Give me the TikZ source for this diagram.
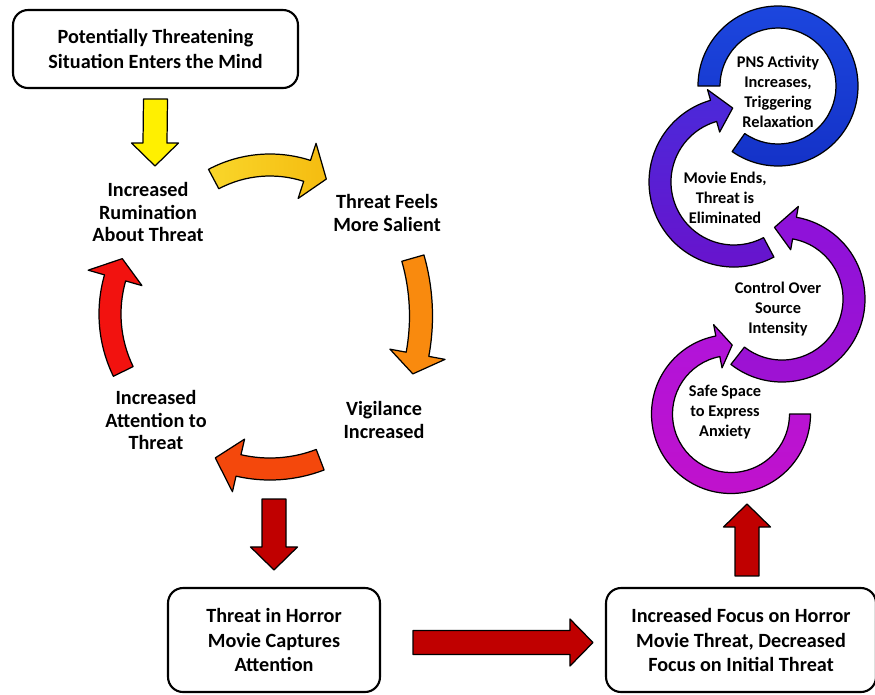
\documentclass[tikz,border=0pt]{standalone}
\usepackage{fontspec}
\setmainfont{Carlito}
\usepackage{xcolor}
\usetikzlibrary{calc}

\definecolor{yellowA}{HTML}{FFF000}
\definecolor{goldL}{HTML}{F9D62A}
\definecolor{goldR}{HTML}{F5BC10}
\definecolor{orangeA}{HTML}{F98A0E}
\definecolor{redorange}{HTML}{F4480C}
\definecolor{redA}{HTML}{F2120F}
\definecolor{darkred}{HTML}{C00000}
\definecolor{blueT}{HTML}{1C46DE}
\definecolor{blueB}{HTML}{1432C8}
\definecolor{violetT}{HTML}{4A2ADA}
\definecolor{violetB}{HTML}{6A12CC}
\definecolor{purpleT}{HTML}{8C12DA}
\definecolor{purpleB}{HTML}{A012D2}
\definecolor{magentaT}{HTML}{B014DA}
\definecolor{magentaB}{HTML}{C012CC}

\tikzset{
  blockline/.style={draw=black, line width=0.7pt, line join=round},
  flowbox/.style={draw=black, line width=1.2pt, rounded corners=0.3cm, align=center,
    font=\bfseries\fontsize{11.5}{14}\selectfont, inner sep=0pt},
  cyclabel/.style={align=center, font=\bfseries\fontsize{11.5}{13}\selectfont},
  ringlabel/.style={align=center, font=\bfseries\fontsize{9.3}{11.4}\selectfont}
}

\newcommand{\shw}{12}
\newcommand{\hhw}{23.5}
\newcommand{\hlen}{23}

% straight block arrow: style, from, to, direction, normal
\newcommand{\blockarrow}[5]{%
  \draw[blockline, #1]
    ($(#2)+\shw*(#5)$) -- ($(#3)-\hlen*(#4)+\shw*(#5)$)
    -- ($(#3)-\hlen*(#4)+\hhw*(#5)$) -- (#3)
    -- ($(#3)-\hlen*(#4)-\hhw*(#5)$) -- ($(#3)-\hlen*(#4)-\shw*(#5)$)
    -- ($(#2)-\shw*(#5)$) -- cycle;}

% curved block arrow: style, centre, radius, tail, head base, tip, shaft hw, head hw
\newcommand{\curvedarrow}[8]{%
  \draw[blockline, #1, shift={(#2)}]
    ({#4}:{#3+#7}) arc[start angle=#4, end angle=#5, radius={#3+#7}]
    -- ({#5}:{#3+#8}) -- ({#6}:{#3}) -- ({#5}:{#3-#8})
    -- ({#5}:{#3-#7}) arc[start angle=#5, end angle=#4, radius={#3-#7}] -- cycle;}

% ring without head: style, centre, radius, start, end, hw
\newcommand{\ringband}[6]{%
  \draw[blockline, #1, shift={(#2)}]
    ({#4}:{#3+#6}) arc[start angle=#4, end angle=#5, radius={#3+#6}]
    -- ({#5}:{#3-#6}) arc[start angle=#5, end angle=#4, radius={#3-#6}] -- cycle;}

\begin{document}
\begin{tikzpicture}[x=0.02cm, y=0.02cm]
  \useasboundingbox (0,0) rectangle (875,-694);

  % boxes
  \node[flowbox, minimum width=5.7cm, minimum height=1.56cm] (sit) at (155.5,-49)
    {Potentially Threatening\\Situation Enters the Mind};
  \node[flowbox, minimum width=4.24cm, minimum height=2.08cm] (movie) at (274,-640)
    {Threat in Horror\\Movie Captures\\Attention};
  \node[flowbox, minimum width=5.4cm, minimum height=2.08cm] (focus) at (741,-640)
    {Increased Focus on Horror\\Movie Threat, Decreased\\Focus on Initial Threat};

  % cycle
  \node[cyclabel] (rum) at (148,-212) {Increased\\Rumination\\About Threat};
  \node[cyclabel] (sal) at (387,-213) {Threat Feels\\More Salient};
  \node[cyclabel] (vig) at (384,-420) {Vigilance\\Increased};
  \node[cyclabel] (att) at (156,-420) {Increased\\Attention to\\Threat};

  \curvedarrow{left color=goldL, right color=goldR}{270,-285}{120}{118}{72}{62}{11}{29}
  \curvedarrow{fill=orangeA}{211,-316}{210}{16}{-10.5}{-16}{11.5}{28}
  \curvedarrow{fill=redorange}{270,-329}{140}{-69}{-103}{-113}{11}{27}
  \curvedarrow{fill=redA}{241,-314}{131}{206}{164}{155}{11}{28}

  % rings
  \node[ringlabel] (pns) at (778,-92) {PNS Activity\\Increases,\\Triggering\\Relaxation};
  \node[ringlabel] (ends) at (725,-198) {Movie Ends,\\Threat is\\Eliminated};
  \node[ringlabel] (ctrl) at (778,-309) {Control Over\\Source\\Intensity};
  \node[ringlabel] (safe) at (725,-412) {Safe Space\\to Express\\Anxiety};

  \curvedarrow{top color=magentaT, bottom color=magentaB}{731,-414}{69}{0}{-259}{-271}{10.5}{22}
  \curvedarrow{top color=purpleT, bottom color=purpleB}{782,-299}{72}{-128}{80}{96}{11}{22}
  \curvedarrow{top color=violetT, bottom color=violetB}{734,-182}{74}{-62}{-254}{-269}{11}{22}
  \ringband{top color=blueT, bottom color=blueB}{778,-86}{69}{180}{-125}{11}

  % straight arrows
  \coordinate (y0) at ($(sit.south)+(0,-10)$);
  \coordinate (y1) at (155,-166);
  \coordinate (r0) at (274,-499);
  \coordinate (r1) at ($(movie.north)+(0,17)$);
  \coordinate (h0) at ($(movie.east)+(32,-2.5)$);
  \coordinate (h1) at ($(focus.west)+(-12,-2.5)$);
  \coordinate (u0) at ($(focus.north)+(6,11)$);
  \coordinate (u1) at (747,-504);

  \blockarrow{fill=yellowA}{y0}{y1}{0,-1}{1,0}
  \blockarrow{fill=darkred}{r0}{r1}{0,-1}{1,0}
  \blockarrow{fill=darkred}{h0}{h1}{1,0}{0,1}
  \blockarrow{fill=darkred}{u0}{u1}{0,1}{1,0}
\end{tikzpicture}
\end{document}
